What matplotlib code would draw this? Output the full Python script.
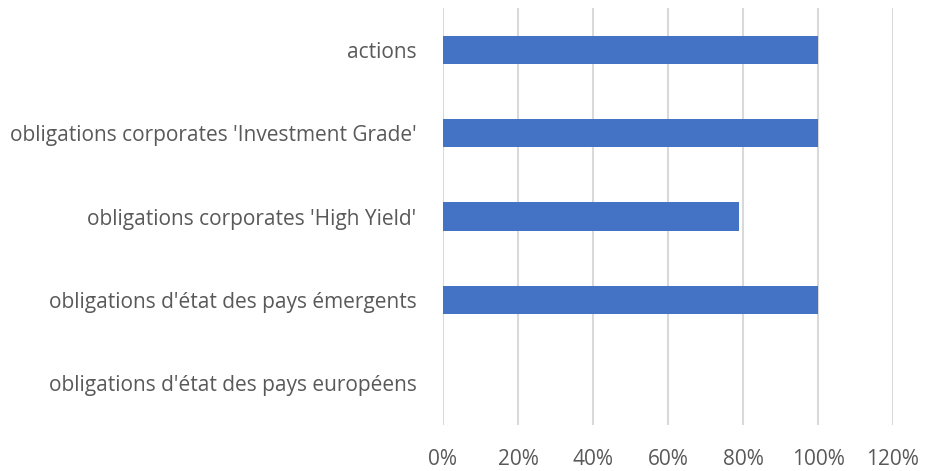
import matplotlib.pyplot as plt
from matplotlib.ticker import PercentFormatter

categories = ["obligations d'état des pays européens",
              "obligations d'état des pays émergents",
              "obligations corporates 'High Yield'",
              "obligations corporates 'Investment Grade'",
              "actions"]
values = [0.0, 1.0, 0.79, 1.0, 1.0]
ticks = [0, 0.2, 0.4, 0.6, 0.8, 1.0, 1.2]

plt.rcParams['font.family'] = ['Open Sans', 'DejaVu Sans']
grey = '#595959'

fig = plt.figure(figsize=(9.28, 4.71), dpi=100)
ax = fig.add_axes([443/928, 1 - 425/471, 450/928, 417/471])

ax.barh(range(len(categories)), values, height=0.34, color='#4472C4', zorder=3)
ax.set_ylim(-0.5, len(categories) - 0.5)
ax.set_xlim(0, 1.2)
ax.set_xticks(ticks)
ax.xaxis.set_major_formatter(PercentFormatter(1.0, decimals=0))
ax.set_yticks(range(len(categories)))
ax.set_yticklabels(categories)

ax.grid(axis='x', color='#d9d9d9', linewidth=1.5, zorder=0)
for s in ax.spines.values():
    s.set_visible(False)
ax.tick_params(axis='both', length=0, labelsize=15, labelcolor=grey)
ax.tick_params(axis='y', pad=19)
ax.tick_params(axis='x', pad=17)

fig.savefig('out.png', dpi=100)
